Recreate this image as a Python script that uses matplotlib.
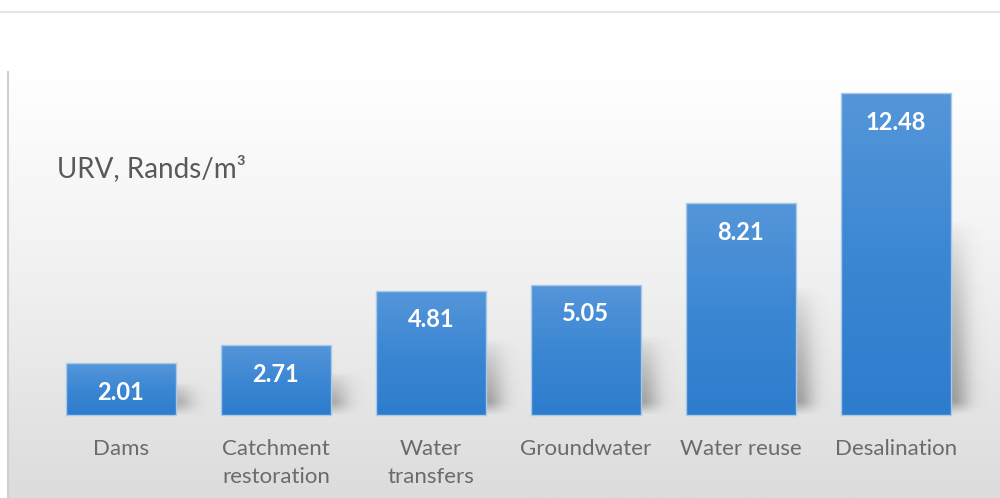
import matplotlib.pyplot as plt
import matplotlib.colors as mcolors
import numpy as np

categories = ['Dams', 'Catchment\nrestoration', 'Water\ntransfers', 'Groundwater', 'Water reuse', 'Desalination']
urv_values = [2.01, 2.71, 4.81, 5.05, 8.21, 12.48]
value_labels = ['2.01', '2.71', '4.81', '5.05', '8.21', '12.48']

plt.rcParams['font.family'] = ['Lato', 'DejaVu Sans']

fig = plt.figure(figsize=(10, 4.98), dpi=100)
fig.patch.set_facecolor('white')

# thin rule across the top of the figure
fig.add_artist(plt.Line2D([0.0, 1.0], [1 - 12 / 498, 1 - 12 / 498], color='#e6e6e6', lw=1.5))

ax = fig.add_axes([0.008, 0.0, 0.992, 1 - 72 / 498])
x = np.arange(len(categories))
xlim = (-0.729, 5.671)
ylim = (-3.22, 13.29)
for s in ['top', 'right', 'bottom']:
    ax.spines[s].set_visible(False)
ax.spines['left'].set_color('#cfcfcf')
ax.spines['left'].set_linewidth(1.5)
ax.set_xticks([])
ax.set_yticks([])

# background gradient: white at top to light grey at bottom
bg = mcolors.LinearSegmentedColormap.from_list('bg', ['#dcdcdc', '#f0f0f0', '#ffffff'])
grad = np.linspace(0, 1, 256).reshape(-1, 1)
ax.imshow(grad, cmap=bg, origin='lower', aspect='auto',
          extent=(xlim[0], xlim[1], ylim[0], ylim[1]), zorder=0)

# soft blurred shadows to the right of the bars
width = 0.71
for xi, v in zip(x, urv_values):
    left = xi - width / 2
    right = xi + width / 2
    sx = np.linspace(left, right + 0.35, 140)
    sh = v * 0.6
    sy = np.linspace(0, sh, 140)
    X, Y = np.meshgrid(sx, sy)
    dx = np.clip(X - right, 0, None)
    x_fade = np.exp(-(dx / 0.11) ** 2)
    y_fade = np.clip(1 - Y / sh, 0, 1) ** 0.7 * np.clip(Y / 0.5, 0, 1)
    rgba = np.zeros(X.shape + (4,))
    rgba[..., :3] = 0.4
    rgba[..., 3] = 0.6 * x_fade * y_fade
    ax.imshow(rgba, origin='lower', aspect='auto', interpolation='bilinear',
              extent=(left, right + 0.35, 0, sh), zorder=1)

# bars with a vertical blue gradient
bars = ax.bar(x, urv_values, width=width, color='none', edgecolor='#a9c9ea', lw=1.0, zorder=3)
bar_cmap = mcolors.LinearSegmentedColormap.from_list('bar', ['#2d7ccd', '#3c87d3', '#5596d9'])
for b in bars:
    bx, by = b.get_x(), b.get_y()
    im = ax.imshow(grad, cmap=bar_cmap, origin='lower', aspect='auto',
                   extent=(bx, bx + b.get_width(), by, by + b.get_height()), zorder=2)
    im.set_clip_path(b)
ax.set_xlim(*xlim)
ax.set_ylim(*ylim)

for xi, v, lab in zip(x, urv_values, value_labels):
    ax.annotate(lab, (xi, v), xytext=(0, -21), textcoords='offset points',
                ha='center', va='center', color='white', fontsize=17, fontweight='bold', zorder=4)

for xi, cat in zip(x, categories):
    ax.text(xi, -0.93, cat, ha='center', va='top', color='#6b6b6b', fontsize=16,
            linespacing=1.5, zorder=4)

ax.text(-0.41, 9.55, 'URV, Rands/m³', ha='left', va='center', color='#595959', fontsize=20, zorder=4)

fig.savefig('out.png', dpi=100)
